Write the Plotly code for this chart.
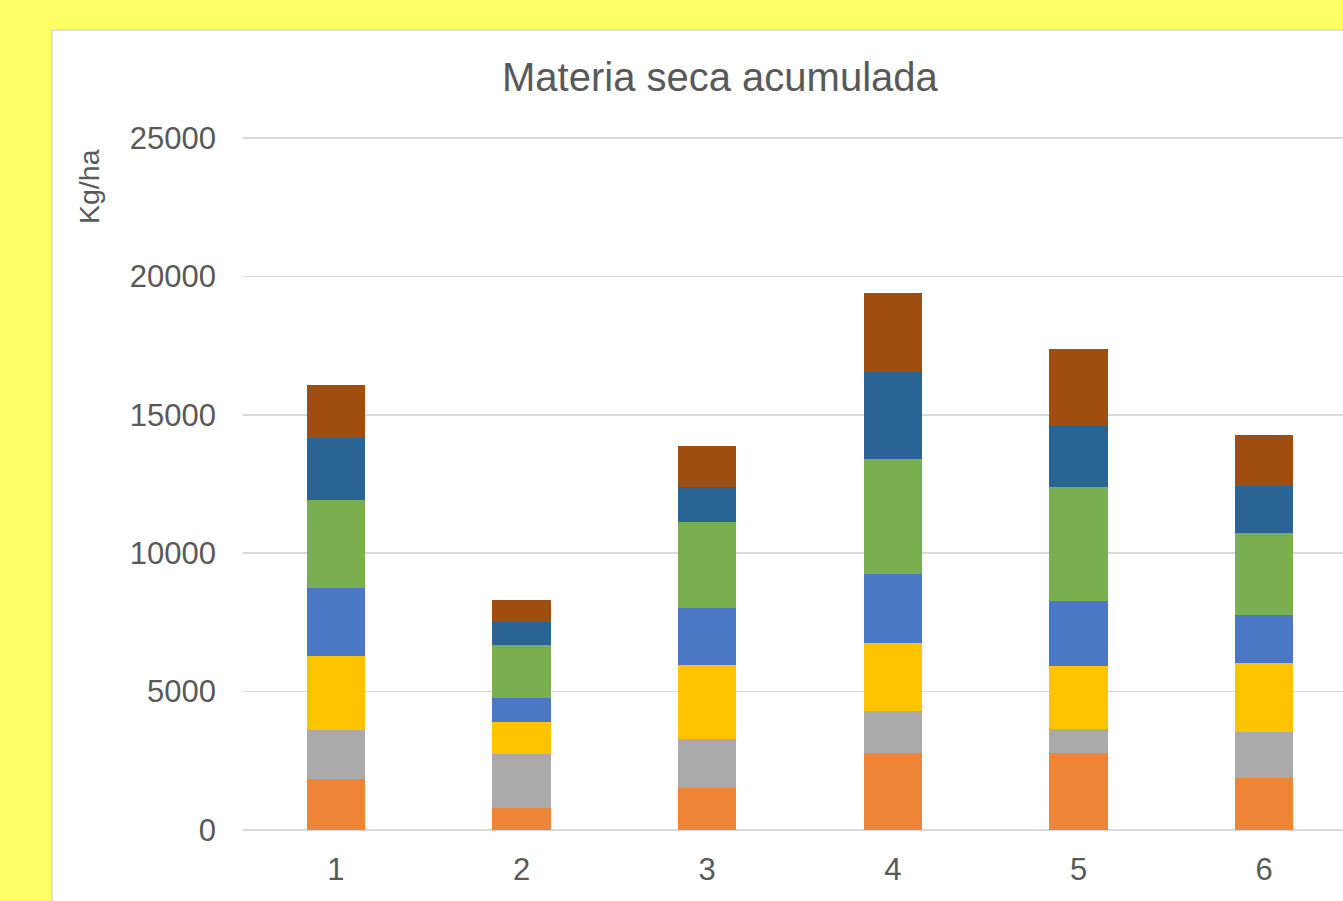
import plotly.graph_objects as go

categories = ["1", "2", "3", "4", "5", "6"]
series_names = ["Serie1", "Serie2", "Serie3", "Serie4", "Serie5", "Serie6", "Serie7"]
s1 = [1856, 794, 1500, 2780, 2789, 1868]
s2 = [1743, 1939, 1784, 1526, 856, 1685]
s3 = [2672, 1180, 2677, 2469, 2276, 2473]
s4 = [2465, 867, 2068, 2470, 2368, 1737]
s5 = [3191, 1913, 3117, 4176, 4106, 2974]
s6 = [2239, 816, 1241, 3129, 2210, 1710]
s7 = [1913, 808, 1500, 2845, 2790, 1842]
series = [s1, s2, s3, s4, s5, s6, s7]
colors = ["#EE8436", "#AAAAAA", "#FFC400", "#4A78C5", "#79AF4F", "#2A6495", "#A04D10"]
y_ticks = [0, 5000, 10000, 15000, 20000, 25000]

W, H = 1343, 901
ml, mr, mt, mb = 243, 0, 137, 71
pw, ph = W - ml - mr, H - mt - mb

def px_x(p):
    return (p - ml) / pw

def px_y(p):
    return 1 + (mt - p) / ph

fig = go.Figure()
for name, vals, col in zip(series_names, series, colors):
    fig.add_trace(go.Bar(x=list(range(len(categories))), y=vals, name=name,
                         marker=dict(color=col, line=dict(width=0))))

font_family = "Liberation Sans, Arial, sans-serif"
txt = "#595959"

fig.update_layout(
    width=W, height=H,
    margin=dict(l=ml, r=mr, t=mt, b=mb, pad=0),
    barmode="stack", bargap=0.687,
    paper_bgcolor="#FFFF66", plot_bgcolor="white",
    showlegend=False,
    font=dict(family=font_family, color=txt),
    xaxis=dict(range=[-0.5, 5.4245], tickmode="array",
               tickvals=list(range(len(categories))), ticktext=categories,
               tickfont=dict(size=31, color=txt), showgrid=False,
               zeroline=False, showline=False, ticks="",
               ticklabelstandoff=18, fixedrange=True),
    yaxis=dict(range=[0, 25040], tickmode="array", tickvals=y_ticks,
               ticktext=[str(v) for v in y_ticks],
               tickfont=dict(size=31, color=txt), showgrid=True,
               gridcolor="#D9D9D9", gridwidth=1.5, zeroline=True,
               zerolinecolor="#D9D9D9", zerolinewidth=1.5, showline=False,
               ticks="", ticklabelstandoff=26, fixedrange=True),
    shapes=[dict(type="rect", xref="paper", yref="paper",
                 x0=px_x(52), x1=1.2, y0=-0.4, y1=px_y(30),
                 fillcolor="white", line=dict(color="#D9D9D9", width=1.5),
                 layer="below")],
    annotations=[
        dict(text="Materia seca acumulada", xref="paper", yref="paper",
             x=px_x(720), y=px_y(77), xanchor="center", yanchor="middle",
             showarrow=False, font=dict(size=40, color=txt, family=font_family)),
        dict(text="Kg/ha", xref="paper", yref="paper",
             x=px_x(89), y=px_y(186), xanchor="center", yanchor="middle",
             textangle=-90, showarrow=False,
             font=dict(size=28.5, color=txt, family=font_family)),
    ],
)

fig.write_html("out.html",
               config={"displayModeBar": False, "staticPlot": True},
               post_script="document.body.style.margin='0';document.body.style.overflow='hidden';")
